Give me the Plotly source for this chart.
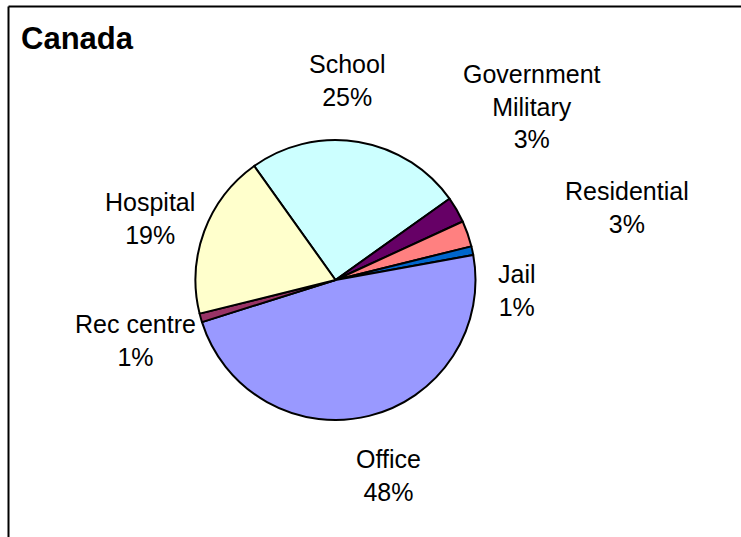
import plotly.graph_objects as go

# Slice categories and shares (%), listed clockwise starting with School
categories = ["School", "Government<br>Military", "Residential", "Jail", "Office", "Rec centre", "Hospital"]
shares = [25, 3, 3, 1, 48, 1, 19]
colors = ["#CCFFFF", "#660066", "#FF8080", "#0066CC", "#9999FF", "#993366", "#FFFFCC"]

# Label anchor points (paper pixels) for each slice's text
label_px = [(347, 80), (532, 106), (627, 207), (517, 290), (389, 475), (135, 340), (150, 218)]

W, H = 741, 537
cx, cy, r = 335.5, 280, 140
FONT = "Liberation Sans, Arial, sans-serif"

fig = go.Figure(go.Pie(
    labels=categories,
    values=shares,
    sort=False,
    direction="clockwise",
    rotation=-35.5,
    marker=dict(colors=colors, line=dict(color="black", width=2)),
    textinfo="none",
    hoverinfo="label+percent",
    showlegend=False,
    domain=dict(x=[(cx - r) / W, (cx + r) / W], y=[1 - (cy + r) / H, 1 - (cy - r) / H]),
))

annotations = []
for cat, val, (px, py) in zip(categories, shares, label_px):
    annotations.append(dict(
        x=px / W, y=1 - py / H, xref="paper", yref="paper",
        text=f"{cat}<br>{val}%", showarrow=False,
        font=dict(family=FONT, size=25, color="black"),
        align="center", xanchor="center", yanchor="middle",
    ))
annotations.append(dict(
    x=19 / W, y=1 - 39 / H, xref="paper", yref="paper",
    text="<b>Canada</b>", showarrow=False,
    font=dict(family=FONT, size=31, color="black"),
    xanchor="left", yanchor="middle",
))

fig.update_layout(
    width=W, height=H,
    margin=dict(l=0, r=0, t=0, b=0),
    paper_bgcolor="white", plot_bgcolor="white",
    annotations=annotations,
    shapes=[
        dict(type="line", xref="paper", yref="paper", x0=8.5 / W, x1=1.01, y0=1 - 6.5 / H, y1=1 - 6.5 / H,
             line=dict(color="black", width=2)),
        dict(type="line", xref="paper", yref="paper", x0=8.5 / W, x1=8.5 / W, y0=1 - 6.5 / H, y1=-0.01,
             line=dict(color="black", width=2)),
    ],
)

fig.write_html("out.html")
